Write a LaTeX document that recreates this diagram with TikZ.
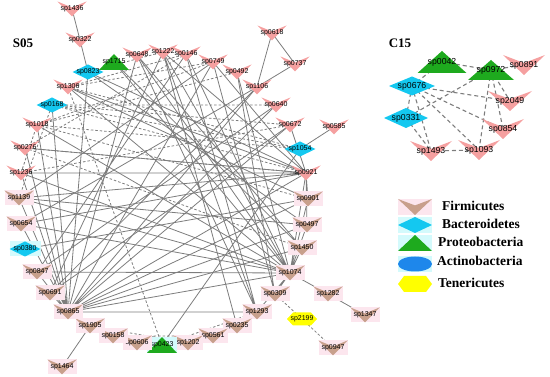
\documentclass[tikz,border=0pt]{standalone}
\usepackage{fontspec}
\setmainfont{Liberation Serif}
\newfontfamily\spfont{Liberation Sans}
\usetikzlibrary{calc,backgrounds}
\definecolor{firmpink}{RGB}{245,160,160}
\definecolor{firmtan}{RGB}{200,160,140}
\definecolor{firmhalo}{RGB}{252,230,238}
\definecolor{bactcyan}{RGB}{20,200,240}
\definecolor{bacthalo}{RGB}{212,250,252}
\definecolor{protgreen}{RGB}{30,170,30}
\definecolor{actiblue}{RGB}{30,135,235}
\definecolor{teneyellow}{RGB}{255,255,0}
\definecolor{linkgray}{RGB}{125,125,125}
\begin{document}
\begin{tikzpicture}[
  x=1pt,y=-1pt,
  sp/.style={inner sep=0pt, font=\spfont\fontsize{7}{7}\selectfont, minimum width=29pt, minimum height=15pt},
  big/.style={font=\spfont\fontsize{8.7}{8.7}\selectfont, minimum width=42pt, minimum height=20pt},
  vee/.style={path picture={\fill[#1] (path picture bounding box.north west) -- ($(path picture bounding box.north)!0.4!(path picture bounding box.south)$) -- (path picture bounding box.north east) -- (path picture bounding box.south) -- cycle;}},
  diam/.style={path picture={\fill[#1] (path picture bounding box.west) -- (path picture bounding box.north) -- (path picture bounding box.east) -- (path picture bounding box.south) -- cycle;}},
  tri/.style={path picture={\fill[#1] (path picture bounding box.south west) -- (path picture bounding box.north) -- (path picture bounding box.south east) -- cycle;}},
  hexa/.style={path picture={\fill[#1] (path picture bounding box.west) -- ([xshift=6pt]path picture bounding box.north west) -- ([xshift=-6pt]path picture bounding box.north east) -- (path picture bounding box.east) -- ([xshift=-6pt]path picture bounding box.south east) -- ([xshift=6pt]path picture bounding box.south west) -- cycle;}},
  ellip/.style={path picture={\fill[#1] (path picture bounding box.center) ellipse [x radius=17pt, y radius=7.5pt];}},
  firm/.style={sp, vee=firmpink},
  firmsel/.style={sp, fill=firmhalo, vee=firmtan},
  bact/.style={sp, minimum width=31pt, minimum height=15pt, diam=bactcyan},
  bactsel/.style={bact, fill=bacthalo},
  prot/.style={sp, minimum width=30pt, minimum height=16pt, tri=protgreen},
  protsel/.style={prot, fill=bacthalo},
  tene/.style={sp, minimum width=30pt, minimum height=13pt, hexa=teneyellow},
  title/.style={font=\bfseries\fontsize{13}{13}\selectfont, inner sep=0pt},
  legtext/.style={font=\bfseries\fontsize{13.5}{13.5}\selectfont, anchor=west, inner sep=0pt},
  legicon/.style={sp, minimum width=34pt, minimum height=16pt},
  link/.style={draw=linkgray, line width=0.8pt},
  weak/.style={link, dash pattern=on 2.5pt off 2pt},
  clink/.style={draw=linkgray, line width=1.1pt, dash pattern=on 4pt off 3pt}
]
\useasboundingbox (0,0) rectangle (550,377);

\node[title] (s05) at (23,43) {S05};
\node[title] (c15) at (400,43) {C15};

\node[firm]    (sp1436) at (72,9)    {sp1436};
\node[firm]    (sp0322) at (80,40)   {sp0322};
\node[bact]    (sp0823) at (88,72)   {sp0823};
\node[prot]    (sp1715) at (114,62)  {sp1715};
\node[firm]    (sp0648) at (137,55)  {sp0648};
\node[firm]    (sp1222) at (163,52)  {sp1222};
\node[firm]    (sp0146) at (186,54)  {sp0146};
\node[firm]    (sp0749) at (213,62)  {sp0749};
\node[firm]    (sp0618) at (272,33)  {sp0618};
\node[firm]    (sp0737) at (295,64)  {sp0737};
\node[firm]    (sp0492) at (237,72)  {sp0492};
\node[firm]    (sp1106) at (257,87)  {sp1106};
\node[firm]    (sp0640) at (276,105) {sp0640};
\node[firm]    (sp0672) at (290,125) {sp0672};
\node[firm]    (sp0585) at (334,127) {sp0585};
\node[bact]    (sp1054) at (300,149) {sp1054};
\node[firm]    (sp0921) at (306,173) {sp0921};
\node[firmsel] (sp0901) at (308,199) {sp0901};
\node[firmsel] (sp0497) at (307,225) {sp0497};
\node[firmsel] (sp1450) at (302,248) {sp1450};
\node[firmsel] (sp1074) at (290,273) {sp1074};
\node[firmsel] (sp0309) at (275,294) {sp0309};
\node[firmsel] (sp1282) at (328,294) {sp1282};
\node[firmsel] (sp1347) at (365,315) {sp1347};
\node[tene]    (sp2199) at (302,319) {sp2199};
\node[firmsel] (sp0947) at (333,348) {sp0947};
\node[firmsel] (sp1293) at (257,312) {sp1293};
\node[firmsel] (sp0235) at (237,326) {sp0235};
\node[firmsel] (sp0561) at (213,336) {sp0561};
\node[firmsel] (sp1202) at (188,343) {sp1202};
\node[protsel] (sp0423) at (162,345) {sp0423};
\node[firmsel] (sp0606) at (137,343) {sp0606};
\node[firmsel] (sp0158) at (113,336) {sp0158};
\node[firmsel] (sp1905) at (90,326)  {sp1905};
\node[firmsel] (sp1464) at (62,367)  {sp1464};
\node[firmsel] (sp0865) at (68,312)  {sp0865};
\node[firmsel] (sp0691) at (50,293)  {sp0691};
\node[firmsel] (sp0847) at (37,272)  {sp0847};
\node[bactsel] (sp0380) at (25,249)  {sp0380};
\node[firmsel] (sp0654) at (21,224)  {sp0654};
\node[firmsel] (sp1139) at (19,198)  {sp1139};
\node[firm]    (sp1236) at (21,173)  {sp1236};
\node[firm]    (sp0276) at (25,148)  {sp0276};
\node[firm]    (sp1018) at (37,125)  {sp1018};
\node[bact]    (sp0168) at (52,105)  {sp0168};
\node[firm]    (sp1306) at (68,87)   {sp1306};

\node[prot, big, minimum width=49pt, minimum height=22pt] (sp0042) at (442,62) {sp0042};
\node[prot, big, minimum width=46pt, minimum height=20pt] (sp0972) at (491,70) {sp0972};
\node[firm, big]                                         (sp0891) at (524,65) {sp0891};
\node[bact, big, minimum width=46pt, minimum height=19pt] (sp0676) at (412,86) {sp0676};
\node[firm, big, minimum width=44pt]                     (sp2049) at (510,101) {sp2049};
\node[bact, big, minimum width=44pt, minimum height=20pt] (sp0331) at (406,118) {sp0331};
\node[firm, big]                                         (sp0854) at (503,129) {sp0854};
\node[firm, big]                                         (sp1493) at (431,151) {sp1493};
\node[firm, big]                                         (sp1093) at (479,150) {sp1093};

\node[legicon, fill=firmhalo, vee=firmtan]     (legfirm) at (415,207) {};
\node[legicon, fill=bacthalo, diam=bactcyan]   (legbact) at (415,225) {};
\node[legicon, fill=bacthalo, tri=protgreen]   (legprot) at (415,243) {};
\node[legicon, fill=bacthalo, ellip=actiblue]  (legacti) at (415,264) {};
\node[legicon, hexa=teneyellow]                (legtene) at (415,284) {};
\node[legtext] (txfirm) at (442,206) {Firmicutes};
\node[legtext] (txbact) at (442,224) {Bacteroidetes};
\node[legtext] (txprot) at (438,242) {Proteobacteria};
\node[legtext] (txacti) at (437,261) {Actinobacteria};
\node[legtext] (txtene) at (438,283) {Tenericutes};

\begin{scope}[on background layer]
\draw[link] (sp0865.center) -- (sp1074.center) (sp0865.center) -- (sp1450.center) (sp0865.center) -- (sp0497.center)
  (sp0865.center) -- (sp0901.center) (sp0865.center) -- (sp0921.center) (sp0865.center) -- (sp0672.center)
  (sp0865.center) -- (sp0640.center) (sp0865.center) -- (sp1106.center) (sp0865.center) -- (sp0749.center)
  (sp0865.center) -- (sp0648.center) (sp0865.center) -- (sp0823.center) (sp0865.center) -- (sp0168.center)
  (sp0865.center) -- (sp1018.center) (sp0865.center) -- (sp0276.center) (sp0865.center) -- (sp1236.center)
  (sp0865.center) -- (sp1139.center) (sp0865.center) -- (sp0654.center) (sp0865.center) -- (sp0847.center)
  (sp0865.center) -- (sp0691.center) (sp0865.center) -- (sp1293.center);
\draw[link] (sp1074.center) -- (sp0847.center) (sp1074.center) -- (sp0654.center) (sp1074.center) -- (sp1139.center)
  (sp1074.center) -- (sp1236.center) (sp1074.center) -- (sp1018.center) (sp1074.center) -- (sp1306.center)
  (sp1074.center) -- (sp1715.center) (sp1074.center) -- (sp0648.center) (sp1074.center) -- (sp1222.center)
  (sp1074.center) -- (sp0146.center) (sp1074.center) -- (sp0492.center) (sp1074.center) -- (sp0901.center)
  (sp1074.center) -- (sp0497.center) (sp1074.center) -- (sp1450.center) (sp1074.center) -- (sp0921.center)
  (sp1074.center) -- (sp0309.center) (sp1074.center) -- (sp1282.center) (sp1074.center) -- (sp1293.center);
\draw[link] (sp0921.center) -- (sp0654.center) (sp0921.center) -- (sp1139.center) (sp0921.center) -- (sp1236.center)
  (sp0921.center) -- (sp0276.center) (sp0921.center) -- (sp1306.center) (sp0921.center) -- (sp0823.center)
  (sp0921.center) -- (sp1222.center) (sp0921.center) -- (sp0749.center) (sp0921.center) -- (sp0672.center)
  (sp0921.center) -- (sp0901.center) (sp0921.center) -- (sp0497.center);
\draw[link] (sp1293.center) -- (sp0146.center) (sp1293.center) -- (sp1222.center) (sp1293.center) -- (sp0648.center)
  (sp0309.center) -- (sp0492.center) (sp0309.center) -- (sp0749.center) (sp0423.center) -- (sp1054.center)
  (sp0691.center) -- (sp0672.center) (sp0691.center) -- (sp1106.center) (sp0847.center) -- (sp0640.center)
  (sp0380.center) -- (sp0901.center) (sp0235.center) -- (sp1222.center) (sp0648.center) -- (sp1450.center)
  (sp1715.center) -- (sp1450.center) (sp1222.center) -- (sp0691.center) (sp0146.center) -- (sp0847.center)
  (sp0749.center) -- (sp1139.center) (sp1106.center) -- (sp0654.center) (sp0823.center) -- (sp0497.center)
  (sp1306.center) -- (sp0901.center) (sp1139.center) -- (sp0497.center);
\draw[link] (sp1436.center) -- (sp0322.center) -- (sp0823.center)
  (sp0618.center) -- (sp1106.center) (sp0618.center) -- (sp0737.center) (sp0737.center) -- (sp1106.center)
  (sp0585.center) -- (sp1054.center) (sp1282.center) -- (sp1347.center)
  (sp1464.center) -- (sp1905.center) -- (sp0865.center);
\draw[weak] (sp0168.center) -- (sp0921.center) (sp0168.center) -- (sp1054.center) (sp0168.center) -- (sp0672.center)
  (sp0168.center) -- (sp0640.center) (sp1018.center) -- (sp1054.center) (sp1018.center) -- (sp0901.center)
  (sp1018.center) -- (sp0749.center) (sp1018.center) -- (sp0492.center) (sp0276.center) -- (sp0921.center)
  (sp0276.center) -- (sp1450.center) (sp0276.center) -- (sp0146.center) (sp1306.center) -- (sp0146.center)
  (sp1306.center) -- (sp1054.center) (sp1306.center) -- (sp0749.center) (sp0823.center) -- (sp1222.center)
  (sp1236.center) -- (sp1018.center) (sp1236.center) -- (sp0672.center) (sp1139.center) -- (sp0168.center)
  (sp0423.center) -- (sp1306.center) (sp0423.center) -- (sp1293.center);
\draw[weak] (sp1905.center) -- (sp1202.center) (sp0158.center) -- (sp0561.center) (sp0606.center) -- (sp0865.center)
  (sp0606.center) -- (sp0423.center) (sp0309.center) -- (sp2199.center) -- (sp0947.center);
\draw[clink] (sp0042.center) -- (sp0972.center) -- (sp0891.center) (sp0042.center) -- (sp0676.center)
  (sp0676.center) -- (sp2049.center) (sp0676.center) -- (sp0854.center) (sp0676.center) -- (sp1093.center)
  (sp0676.center) -- (sp1493.center) (sp0676.center) -- (sp0331.center) (sp0972.center) -- (sp0331.center)
  (sp0972.center) -- (sp2049.center) (sp0972.center) -- (sp0854.center) (sp0972.center) -- (sp1093.center)
  (sp0331.center) -- (sp1493.center) (sp1493.center) -- (sp1093.center);
\end{scope}
\end{tikzpicture}
\end{document}
